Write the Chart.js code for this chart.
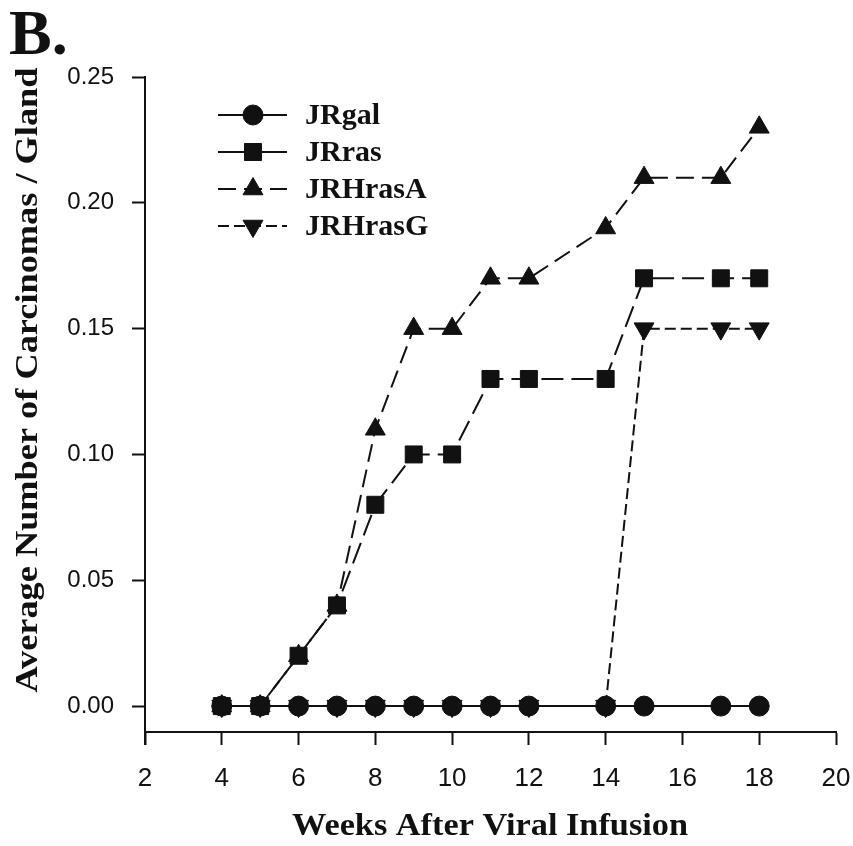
<!DOCTYPE html>
<html>
<head>
<meta charset="utf-8">
<script src="https://cdn.jsdelivr.net/npm/chart.js@4"></script>
<style>
  body { margin: 0; background: #fff; }
  canvas { display: block; }
</style>
</head>
<body>
<canvas id="c" width="853" height="846"></canvas>
<script>
// données
const weeks = [4, 5, 6, 7, 8, 9, 10, 11, 12, 14, 15, 17, 18];
const jrgal   = [0, 0, 0,    0,    0,    0,    0,    0,    0,    0,    0,    0,    0];
const jrras   = [0, 0, 0.02, 0.04, 0.08, 0.10, 0.10, 0.13, 0.13, 0.13, 0.17, 0.17, 0.17];
const jrhrasA = [0, 0, 0.02, 0.04, 0.11, 0.15, 0.15, 0.17, 0.17, 0.19, 0.21, 0.21, 0.23];
const jrhrasG = [0, 0, 0,    0,    0,    0,    0,    0,    0,    0,    0.15, 0.15, 0.15];
const yTicks = [0, 0.05, 0.10, 0.15, 0.20, 0.25];
const xTicks = [2, 4, 6, 8, 10, 12, 14, 16, 18, 20];

const ink = "#111";
const serif = "'Liberation Serif', 'DejaVu Serif', serif";
const sans = "'Liberation Sans', Arial, sans-serif";

const toPts = vals => vals.map((v, i) => ({ x: weeks[i], y: v }));

function serie(label, vals, style, radius, dash, rotation) {
    return {
        label: label,
        data: toPts(vals),
        borderColor: ink,
        backgroundColor: ink,
        borderWidth: 2,
        borderDash: dash,
        pointStyle: style,
        pointRadius: radius,
        pointHoverRadius: radius,
        pointRotation: rotation || 0,
        pointBackgroundColor: ink,
        pointBorderColor: ink,
        pointBorderWidth: 1,
        tension: 0,
        fill: false
    };
}

// texte étiré à une longueur donnée (police un peu plus large que Times)
function texteAjuste(ctx, txt, longueur) {
    const w = ctx.measureText(txt).width;
    ctx.save();
    ctx.scale(longueur / w, 1);
    ctx.fillText(txt, 0, 0);
    ctx.restore();
}

// légende dessinée à la main (trait + symbole)
const legendePlugin = {
    id: "legende",
    afterDraw(chart) {
        const ctx = chart.ctx;
        const area = chart.chartArea;
        const x0 = area.left + 73;
        const y0 = area.top + 38;
        const rowH = 37;
        chart.data.datasets.forEach((ds, i) => {
            const y = y0 + i * rowH;
            ctx.save();
            ctx.strokeStyle = ink;
            ctx.lineWidth = 2;
            ctx.setLineDash(i === 1 ? [] : (ds.borderDash || []));
            ctx.beginPath();
            ctx.moveTo(x0, y);
            ctx.lineTo(x0 + 69, y);
            ctx.stroke();
            ctx.setLineDash([]);
            ctx.fillStyle = ink;
            ctx.strokeStyle = ink;
            ctx.lineWidth = 1;
            Chart.helpers.drawPoint(ctx, {
                pointStyle: ds.pointStyle,
                radius: ds.pointRadius,
                rotation: ds.pointRotation,
                borderWidth: 1
            }, x0 + 35, y);
            ctx.font = "bold 30px " + serif;
            ctx.textBaseline = "middle";
            ctx.textAlign = "left";
            ctx.fillText(ds.label, x0 + 87, y + 1);
            ctx.restore();
        });

        // "B." et titre de l'axe Y
        ctx.save();
        ctx.fillStyle = ink;
        ctx.font = "bold 64px " + serif;
        ctx.textAlign = "left";
        ctx.textBaseline = "alphabetic";
        ctx.fillText("B.", 9, 54);
        ctx.restore();

        ctx.save();
        ctx.fillStyle = ink;
        ctx.translate(29, 380);
        ctx.rotate(-Math.PI / 2);
        ctx.font = "bold 31px " + serif;
        ctx.textAlign = "center";
        ctx.textBaseline = "middle";
        texteAjuste(ctx, "Average Number of Carcinomas / Gland", 625);
        ctx.restore();

        // titre de l'axe X
        ctx.save();
        ctx.fillStyle = ink;
        ctx.translate(490, 827);
        ctx.font = "bold 31px " + serif;
        ctx.textAlign = "center";
        ctx.textBaseline = "middle";
        texteAjuste(ctx, "Weeks After Viral Infusion", 396);
        ctx.restore();

        // prolongement de l'axe Y sous l'axe X
        ctx.save();
        ctx.strokeStyle = ink;
        ctx.lineWidth = 2;
        ctx.beginPath();
        ctx.moveTo(area.left, area.bottom);
        ctx.lineTo(area.left, area.bottom + 13);
        ctx.stroke();
        ctx.restore();
    }
};

new Chart(document.getElementById("c"), {
    type: "line",
    data: {
        datasets: [
            serie("JRgal", jrgal, "circle", 10, []),
            serie("JRras", jrras, "rect", 12, [22, 8]),
            serie("JRHrasA", jrhrasA, "triangle", 11.5, [18, 8]),
            serie("JRHrasG", jrhrasG, "triangle", 11.5, [11, 5], 180)
        ]
    },
    options: {
        responsive: false,
        animation: false,
        layout: { padding: { top: 77, right: 17, left: 0, bottom: 0 } },
        plugins: {
            legend: { display: false },
            tooltip: { enabled: false },
            title: { display: false }
        },
        scales: {
            x: {
                type: "linear",
                min: 2,
                max: 20,
                afterFit: s => { s.height = 114; s.paddingLeft = 0; s.paddingRight = 0; },
                afterBuildTicks: s => { s.ticks = xTicks.map(v => ({ value: v })); },
                grid: { display: true, drawOnChartArea: false, drawTicks: true, tickLength: 13, tickWidth: 2, tickColor: ink },
                border: { display: true, color: ink, width: 2 },
                ticks: { color: ink, font: { family: sans, size: 26 }, padding: 18, maxRotation: 0 },
                title: { display: false, text: "Weeks After Viral Infusion" }
            },
            y: {
                type: "linear",
                min: -0.0103,
                max: 0.25,
                afterFit: s => { s.width = 145; s.paddingTop = 0; s.paddingBottom = 0; },
                afterBuildTicks: s => { s.ticks = yTicks.map(v => ({ value: v })); },
                grid: { display: true, drawOnChartArea: false, drawTicks: true, tickLength: 13, tickWidth: 2, tickColor: ink },
                border: { display: true, color: ink, width: 2 },
                ticks: {
                    color: ink,
                    font: { family: sans, size: 24 },
                    padding: 18,
                    callback: v => v.toFixed(2)
                },
                title: { display: false, text: "Average Number of Carcinomas / Gland" }
            }
        }
    },
    plugins: [legendePlugin]
});
</script>
</body>
</html>
